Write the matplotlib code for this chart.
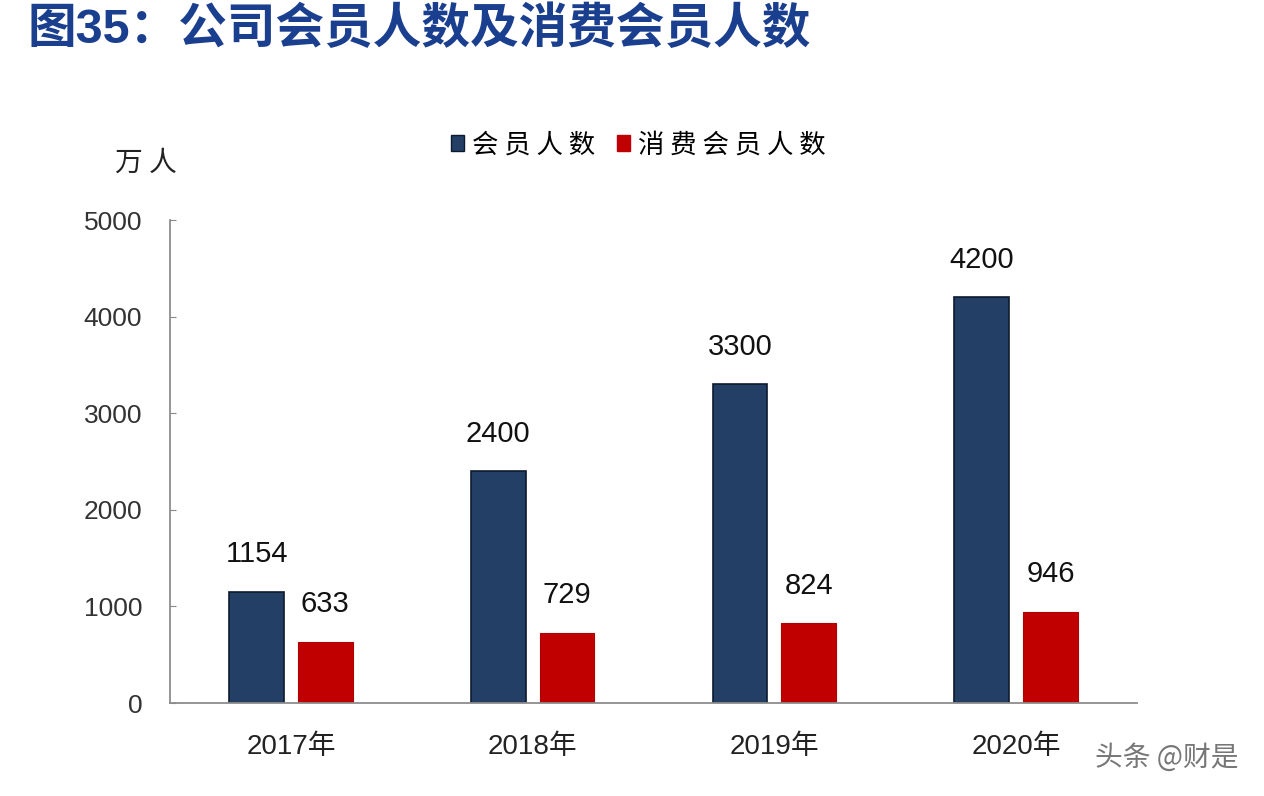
import numpy as np
import matplotlib.pyplot as plt
from matplotlib.patches import Patch

plt.rcParams['font.family'] = ['Liberation Sans', 'Noto Sans CJK SC', 'DejaVu Sans']

years = ['2017年', '2018年', '2019年', '2020年']
members = [1154, 2400, 3300, 4200]
paying = [633, 729, 824, 946]
series_names = ['会 员 人 数', '消 费 会 员 人 数']
yticks = [0, 1000, 2000, 3000, 4000, 5000]

blue = '#243f66'
red = '#c00000'

fig = plt.figure(figsize=(12.64, 7.96), dpi=100)
ax = fig.add_axes([0.1345, 0.1168, 0.765, 0.6068])

x = np.arange(len(years))
w = 0.227
b1 = ax.bar(x - 0.142, members, w, color=blue, edgecolor='#0d1a2e', linewidth=1.2)
b2 = ax.bar(x + 0.142, paying, w, color=red, edgecolor='#b00000', linewidth=0.8)
ax.bar_label(b1, padding=17, fontsize=21, color='#111111')
ax.bar_label(b2, padding=17, fontsize=21, color='#111111')

ax.set_xlim(-0.5, 3.5)
ax.set_ylim(0, 5000)
ax.set_yticks(yticks)
ax.set_xticks(x)
ax.set_xticklabels(years)
ax.tick_params(axis='x', length=0, pad=22, labelsize=20, labelcolor='#222222')
ax.tick_params(axis='y', direction='in', length=4, color='#888888', pad=20,
               labelsize=19, labelcolor='#333333')
for side in ['top', 'right']:
    ax.spines[side].set_visible(False)
for side in ['left', 'bottom']:
    ax.spines[side].set_color('#8c8c8c')
    ax.spines[side].set_linewidth(1.3)

fig.text(0.091, 0.796, '万 人', fontsize=20, family='Noto Sans CJK SC',
         weight='light', color='#222222', ha='left', va='center')

handles = [Patch(facecolor=blue, edgecolor='#0d1a2e'), Patch(facecolor=red, edgecolor=red)]
fig.legend(handles, series_names, loc='center', bbox_to_anchor=(0.505, 0.818),
           ncol=2, frameon=False, handlelength=0.5, handleheight=0.5,
           handletextpad=0.3, columnspacing=0.8,
           prop={'family': 'Noto Sans CJK SC', 'weight': 'light', 'size': 19})

fig.text(0.022, 0.963, '图35：公司会员人数及消费会员人数', fontsize=35,
         family=['Liberation Sans', 'Noto Sans CJK SC'], weight='bold',
         color='#1b3f8f', ha='left', va='center')

fig.text(0.98, 0.048, '头条 @财是', fontsize=20, family='Noto Sans CJK SC',
         color='#555555', alpha=0.8, ha='right', va='center')

fig.savefig('out.png', dpi=100, facecolor='white')
